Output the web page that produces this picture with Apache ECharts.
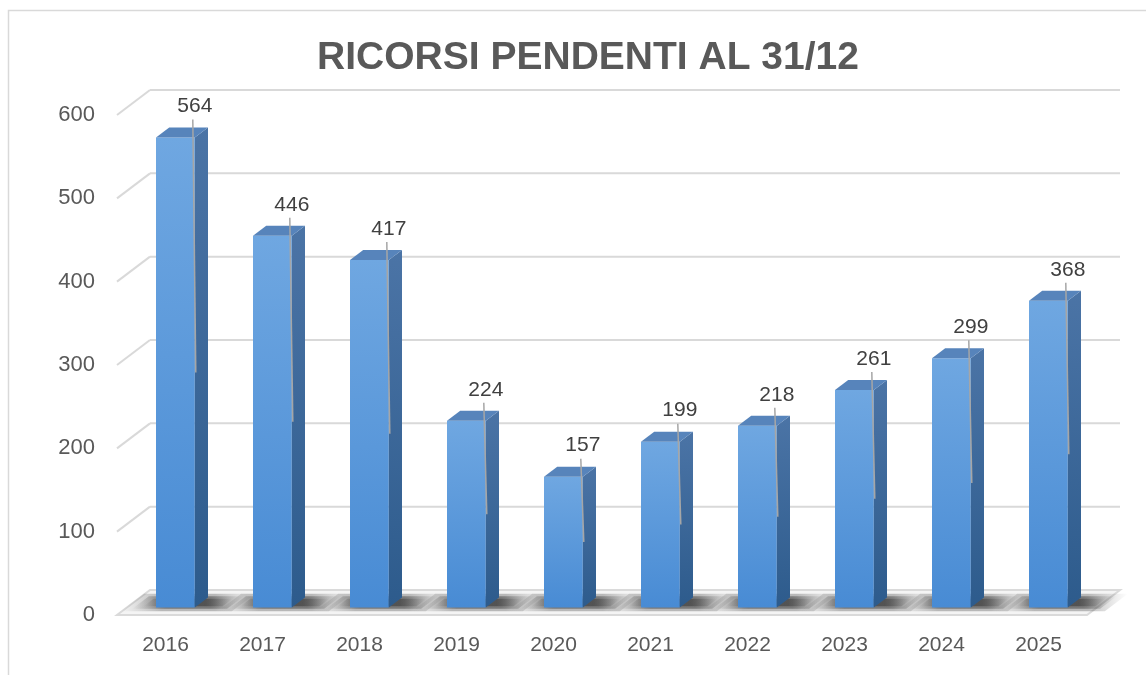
<!DOCTYPE html>
<html>
<head>
<meta charset="utf-8">
<script src="https://cdn.jsdelivr.net/npm/echarts@6/dist/echarts.min.js"></script>
<style>
  html, body { margin: 0; padding: 0; background: #fff; }
  #chart { width: 1146px; height: 675px; }
</style>
</head>
<body>
<div id="chart"></div>
<script>
// dati
var years = ['2016', '2017', '2018', '2019', '2020', '2021', '2022', '2023', '2024', '2025'];
var pending = [564, 446, 417, 224, 157, 199, 218, 261, 299, 368];
var yTicks = [100, 200, 300, 400, 500, 600];

// profondita' della "scatola" 3D
var DX = 33, DY = -25;
var FONT = "'Liberation Sans', Arial, sans-serif";

function floorItem(params, api) {
  var cs = params.coordSys;
  var y0 = api.coord([0, 0])[1];
  var x0 = cs.x, x1 = cs.x + cs.width;
  return {
    type: 'polygon',
    shape: { points: [[x0, y0], [x1, y0], [x1 + DX, y0 + DY], [x0 + DX, y0 + DY]] },
    style: { fill: '#f4f4f4', stroke: '#dadada', lineWidth: 2 }
  };
}

function gridItem(params, api) {
  var cs = params.coordSys;
  var y = api.coord([0, api.value(1)])[1];
  var x0 = cs.x, x1 = cs.x + cs.width;
  return {
    type: 'group',
    children: [
      { type: 'line', shape: { x1: x0, y1: y, x2: x0 + DX, y2: y + DY },
        style: { stroke: '#d9d9d9', lineWidth: 2 } },
      { type: 'line', shape: { x1: x0 + DX, y1: y + DY, x2: x1 + DX, y2: y + DY },
        style: { stroke: '#d9d9d9', lineWidth: 2 } }
    ]
  };
}

// ombra sfumata sul pavimento
function shadowItem(params, api) {
  var top = api.coord([api.value(0), 0]);
  var bw = api.size([1, 0])[0] * 0.4;
  var y0 = top[1];
  function P(x, d) { return [x + d * DX, y0 + d * DY]; }
  function band(xl, xr, d0, d1, a) {
    return {
      type: 'polygon',
      shape: { points: [P(xl, d0), P(xr, d0), P(xr, d1), P(xl, d1)] },
      style: { fill: new echarts.graphic.LinearGradient(0, 0, 1, 0, [
        { offset: 0, color: 'rgba(70,70,70,0)' },
        { offset: 0.3, color: 'rgba(45,45,45,' + a + ')' },
        { offset: 0.7, color: 'rgba(45,45,45,' + a + ')' },
        { offset: 1, color: 'rgba(70,70,70,0)' }]) }
    };
  }
  var xl = top[0] - bw / 2, xr = top[0] + bw / 2;
  return {
    type: 'group',
    children: [
      band(xl - 30, xr + 42, 0.15, 0.85, 0.3),
      band(xl - 22, xr + 34, 0.25, 0.75, 0.45),
      band(xl - 14, xr + 26, 0.35, 0.65, 0.5)
    ]
  };
}

function barItem(params, api) {
  var v = api.value(1);
  var c = api.coord([api.value(0), v]);
  var b = api.coord([api.value(0), 0]);
  var bw = api.size([1, 0])[0] * 0.4;
  var ox = 0.3 * DX, oy = 0.3 * DY;
  var dx = 0.4 * DX, dy = 0.4 * DY;
  var fx0 = c[0] + ox - bw / 2, fx1 = fx0 + bw;
  var yt = c[1] + oy, yb = b[1] + oy;
  var ly = yt - 31;
  return {
    type: 'group',
    children: [
      { type: 'rect', shape: { x: fx0, y: yt, width: bw, height: yb - yt },
        style: { fill: new echarts.graphic.LinearGradient(0, 0, 0, 1, [
          { offset: 0, color: '#6fa7e1' }, { offset: 1, color: '#488bd4' }]) } },
      { type: 'polygon', shape: { points: [[fx1, yt], [fx1 + dx, yt + dy], [fx1 + dx, yb + dy], [fx1, yb]] },
        style: { fill: new echarts.graphic.LinearGradient(0, 0, 0, 1, [
          { offset: 0, color: '#4b74a6' }, { offset: 1, color: '#2d5b8c' }]) } },
      { type: 'polygon', shape: { points: [[fx0, yt], [fx1, yt], [fx1 + dx, yt + dy], [fx0 + dx, yt + dy]] },
        style: { fill: '#5784bb' } },
      { type: 'line', shape: { x1: fx1 - 2, y1: ly + 13, x2: fx1 + 1, y2: yt + (yb - yt) / 2 },
        style: { stroke: '#a6a6a6', lineWidth: 1.5 } },
      { type: 'text',
        style: { text: String(v), x: fx1, y: ly, fill: '#404040', font: '21px ' + FONT,
          align: 'center', verticalAlign: 'middle', textAlign: 'center', textVerticalAlign: 'middle' } }
    ]
  };
}

var chart = echarts.init(document.getElementById('chart'));
var option = {
  animation: false,
  backgroundColor: '#ffffff',
  title: {
    text: 'RICORSI PENDENTI AL 31/12',
    left: 583,
    top: 34,
    textAlign: 'center',
    textStyle: { fontSize: 39, fontWeight: 'bold', color: '#595959', fontFamily: FONT }
  },
  graphic: [{
    type: 'rect', left: 6, top: 8, z: 0,
    shape: { x: 0, y: 0, width: 1200, height: 700 },
    style: { fill: 'none', stroke: '#d9d9d9', lineWidth: 1.5 }
  }],
  grid: { left: 117, right: 59, top: 115, bottom: 60 },
  xAxis: {
    type: 'category',
    data: years,
    axisLine: { show: false },
    axisTick: { show: false },
    axisLabel: { color: '#595959', fontSize: 21, fontFamily: FONT, margin: 20 }
  },
  yAxis: {
    type: 'value',
    min: 0, max: 600, interval: 100,
    axisLine: { show: false },
    axisTick: { show: false },
    splitLine: { show: false },
    axisLabel: { color: '#595959', fontSize: 22, fontFamily: FONT, margin: 22 }
  },
  series: [
    { type: 'custom', z: 1, renderItem: floorItem, data: [[0, 0]], silent: true },
    { type: 'custom', z: 2, renderItem: gridItem, data: yTicks.map(function (v) { return [0, v]; }), silent: true },
    { type: 'custom', z: 3, renderItem: shadowItem, data: pending.map(function (v, i) { return [i, v]; }), silent: true },
    { type: 'custom', z: 4, renderItem: barItem, data: pending.map(function (v, i) { return [i, v]; }) }
  ]
};
chart.setOption(option);
</script>
</body>
</html>
